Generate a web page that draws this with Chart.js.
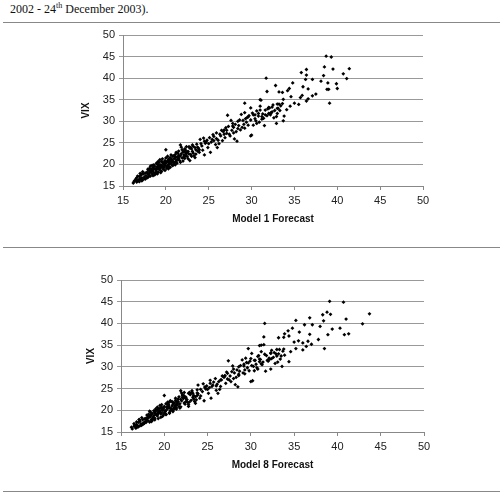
<!DOCTYPE html>
<html>
<head>
<meta charset="utf-8">
<script src="https://cdn.jsdelivr.net/npm/chart.js@4"></script>
<style>
  body { margin: 0; background: #fff; width: 503px; height: 499px; position: relative; overflow: hidden; }
  .caption { position: absolute; left: 10px; top: 1px; font-family: "Liberation Serif", "Times New Roman", serif; font-size: 12px; color: #111; }
  .caption sup { font-size: 8px; }
  .rule { position: absolute; left: 3px; width: 497px; height: 0; border-top: 1px solid #888; }
  canvas { position: absolute; left: 0; }
</style>
</head>
<body>
<div class="caption">2002 - 24<sup>th</sup> December 2003).</div>
<div class="rule" style="top:22px"></div>
<div class="rule" style="top:247px"></div>
<div class="rule" style="top:491px"></div>
<canvas id="chart_m1" width="503" height="247" style="top:0px"></canvas>
<canvas id="chart_m8" width="503" height="252" style="top:247px"></canvas>
<script>
// VIX (same for both panels), forecasts of model 1 and model 8
const vix = [
  15.7,16.1,16.6,16.9,16.4,17.2,16.7,17.5,16.9,16.4,
  17.8,17.1,16.6,17.4,18.2,17.0,17.6,18.6,18.0,17.3,
  18.9,18.3,17.8,19.3,18.5,18.1,19.6,17.6,18.8,19.2,
  18.4,20.1,19.0,18.2,19.5,20.4,18.7,19.9,19.2,18.4,
  20.7,19.6,20.2,18.9,19.4,20.9,19.8,23.4,20.3,19.1,
  20.6,19.7,21.2,20.0,19.5,20.8,21.6,20.2,19.9,21.0,
  21.9,20.5,21.4,20.1,22.3,21.0,20.6,21.7,22.6,21.3,
  20.9,24.5,22.0,24.0,21.5,22.9,22.2,21.4,23.3,22.5,
  24.1,21.8,23.0,24.1,20.9,22.3,23.6,23.0,24.2,22.0,
  21.6,23.4,24.7,23.8,22.8,25.8,24.3,26.1,22.2,24.9,
  25.2,23.9,24.8,22.8,25.2,25.8,26.5,24.6,27.3,23.9,
  24.8,26.6,27.9,27.6,26.2,28.5,31.4,27.0,30.2,28.9,
  25.9,29.3,25.4,28.3,30.3,31.6,30.2,32.0,29.8,31.0,
  26.6,33.1,26.8,31.5,30.6,32.4,31.2,35.0,30.5,29.0,
  32.6,31.3,33.2,31.9,32.2,30.8,29.5,33.0,32.5,30.1,
  31.2,30.9,31.9,30.1,31.7,32.9,32.0,29.8,28.6,27.3,
  27.9,25.6,26.9,25.6,23.1,23.9,23.0,21.1,21.3,20.0,
  19.8,19.0,17.9,17.8,16.2,19.7,20.5,20.7,20.4,22.1,
  19.4,18.7,20.4,21.8,22.7,
  45.1,44.9,42.6,42.1,42.2,42.0,41.3,41.0,40.7,40.6,
  40.0,39.9,39.7,39.7,39.3,38.9,38.9,38.7,38.3,38.0,
  37.6,37.5,37.6,37.4,37.4,37.1,36.9,36.8,36.7,36.3,
  36.0,35.9,35.7,35.5,35.2,35.1,34.9,34.7,34.2,34.2,
  34.2,33.9,33.5,33.5,32.7,
  34.1,34.0,34.0,33.6,33.8,33.3,33.0,33.1,32.5,31.8,31.5,31.1,
  31.5,31.8,31.1,30.7,30.3,29.1,28.4,29.1,29.5,31.5,31.8,32.6,
  16.3,17.3,16.0,17.9,16.2,18.3,16.8,18.0,16.9,18.9,
  17.2,19.1,18.4,19.8,17.4,19.9,17.9,20.3,17.8,20.7,
  19.0,21.1,18.1,21.3,19.2,20.5,18.6,21.5,19.4,21.9,
  19.0,20.9,19.3,22.2,20.6,19.7,22.0,20.4,19.9,22.8,
  20.3,21.5,23.1,21.9,20.5,22.5,23.4,20.8,21.7,23.6,
  22.0,22.9,21.3,22.4,23.8,21.9,24.5,22.6,23.9,22.4,
  24.0,23.4,24.8,23.3,25.4,15.9,16.5,19.6,19.6,21.0,
  26.2,25.5,26.0,27.0,25.5,28.0,27.2,28.8,26.6,27.9,
  28.6,27.6,29.0,28.0,29.3,30.6,30.0,29.5,27.0,31.3
];

const model1Forecast = [
  16.2,16.3,16.5,16.6,16.8,16.9,17.0,17.1,17.2,17.3,
  17.4,17.5,17.6,17.7,17.8,17.9,18.0,18.0,18.1,18.2,
  18.3,18.3,18.4,18.5,18.5,18.6,18.7,18.7,18.8,18.9,
  18.9,19.0,19.0,19.1,19.2,19.2,19.3,19.4,19.4,19.5,
  19.5,19.6,19.7,19.7,19.8,19.9,19.9,20.0,20.0,20.1,
  20.1,20.2,20.3,20.3,20.4,20.5,20.5,20.6,20.7,20.8,
  20.8,20.9,21.0,21.0,21.1,21.2,21.2,21.3,21.4,21.5,
  21.6,21.7,21.7,21.8,21.9,22.0,22.1,22.2,22.3,22.4,
  22.4,22.5,22.6,22.7,22.8,22.9,23.0,23.1,23.2,23.3,
  23.4,23.5,23.6,23.8,23.9,24.0,24.2,24.4,24.5,24.6,
  24.7,24.9,25.0,25.2,25.3,25.4,25.6,25.8,25.9,26.0,
  26.2,26.4,26.5,26.7,26.9,27.0,27.2,27.4,27.6,27.8,
  28.0,28.1,28.3,28.4,28.6,28.8,29.0,29.2,29.4,29.6,
  29.9,29.9,30.0,30.2,30.4,30.6,30.8,31.0,31.2,31.5,
  31.6,31.8,32.0,32.2,32.4,32.6,32.9,33.0,33.3,33.7,
  33.8,29.5,30.1,30.5,31.3,31.9,32.3,30.9,28.9,27.9,
  27.1,26.1,25.5,24.8,23.7,22.9,22.1,21.4,20.6,19.8,
  19.1,18.6,17.9,17.2,16.7,19.3,19.6,20.2,20.9,21.5,
  19.0,18.4,20.4,21.1,22.3,
  38.7,39.3,38.5,39.5,41.4,36.4,35.8,40.7,36.4,38.4,
  31.7,41.1,36.3,37.1,38.1,38.9,34.8,39.9,32.8,36.0,
  40.0,36.6,34.4,38.8,39.0,34.2,31.8,33.2,33.6,37.5,
  35.9,37.1,34.6,35.7,36.6,33.7,31.1,36.4,39.1,35.0,
  29.2,35.5,34.5,31.0,34.1,
  33.6,33.2,33.0,33.4,32.5,32.4,33.1,32.1,32.7,33.0,32.2,32.9,
  30.4,30.8,31.2,31.4,29.9,29.6,29.2,30.2,30.6,31.6,32.0,31.0,
  16.4,16.7,16.9,17.0,17.2,17.3,17.5,17.6,17.8,17.9,
  18.0,18.1,18.2,18.4,18.5,18.6,18.8,18.9,19.0,19.1,
  19.2,19.3,19.4,19.6,19.7,19.8,19.9,20.0,20.1,20.2,
  20.3,20.4,20.5,20.6,20.7,20.8,20.9,21.0,21.1,21.2,
  21.3,21.4,21.5,21.6,21.7,21.8,21.9,22.0,22.1,22.2,
  22.3,22.5,22.6,22.7,22.8,23.0,23.1,23.2,23.4,23.5,
  23.7,23.9,24.1,24.3,24.5,16.6,17.1,18.2,19.5,20.6,
  25.1,25.6,25.9,26.3,26.6,26.8,27.1,27.3,27.5,27.7,
  27.9,28.2,28.5,28.7,29.1,29.3,28.4,27.8,26.8,29.7
];

const model8Forecast = [
  16.3,16.2,16.6,16.5,16.9,17.0,16.8,17.2,17.3,17.1,
  17.5,17.6,17.4,17.8,17.9,17.7,18.1,18.2,18.0,18.3,
  18.4,18.2,18.5,18.6,18.4,18.7,18.9,18.6,18.8,19.0,
  18.7,19.2,19.1,18.9,19.3,19.4,19.2,19.5,19.3,19.6,
  19.7,19.5,19.8,19.9,19.7,20.0,20.1,20.0,19.9,20.2,
  20.3,20.1,20.4,20.2,20.6,20.5,20.4,20.8,20.7,20.9,
  20.6,21.1,21.0,20.9,21.3,21.2,21.4,21.2,21.6,21.5,
  21.7,21.9,21.6,22.0,21.8,22.2,22.0,22.4,22.3,22.6,
  22.3,22.7,22.5,22.9,22.8,23.1,23.0,23.3,23.2,23.5,
  23.6,23.4,23.8,23.9,24.1,23.9,24.4,24.5,24.6,24.8,
  24.7,25.1,25.0,25.4,25.2,25.6,25.7,26.0,25.9,26.2,
  26.4,26.3,26.7,26.9,27.1,27.3,27.4,27.5,27.9,27.8,
  28.2,28.4,28.5,28.6,28.8,29.0,29.2,29.4,29.6,29.5,
  30.0,30.1,30.2,30.4,30.6,30.8,31.0,31.2,31.3,31.7,
  31.8,32.0,32.3,32.4,32.6,32.8,32.3,33.2,33.5,33.6,
  34.4,29.7,30.0,30.3,31.1,31.6,32.1,30.7,29.1,28.0,
  27.0,26.0,25.3,24.9,23.6,22.8,22.1,21.3,20.5,19.8,
  19.0,18.5,17.9,17.1,16.7,19.4,19.6,20.3,20.8,21.4,
  18.9,18.3,20.4,21.0,22.2,
  39.1,40.7,38.8,39.2,43.7,38.3,36.8,41.0,35.2,38.4,
  31.6,42.9,36.2,37.1,38.0,40.3,34.8,39.4,34.3,35.6,
  41.3,36.8,33.9,38.9,40.8,34.4,31.5,33.8,33.2,37.8,
  35.5,36.6,35.0,36.0,37.0,31.5,31.0,36.4,38.5,35.2,
  29.7,36.0,34.6,31.2,33.9,
  33.8,33.0,33.3,33.7,32.4,32.7,32.9,32.3,33.0,33.4,32.0,33.1,
  30.5,31.0,31.4,31.2,30.1,29.8,29.3,30.4,30.8,31.9,32.2,30.9,
  16.5,16.8,16.8,17.1,17.0,17.4,17.5,17.7,17.6,18.0,
  17.9,18.2,18.1,18.3,18.5,18.8,18.6,19.0,18.9,19.2,
  19.1,19.5,19.3,19.7,19.6,19.9,19.8,20.2,20.0,20.4,
  20.2,20.5,20.6,20.7,20.6,21.0,20.9,21.2,21.0,21.3,
  21.4,21.5,21.7,21.5,21.8,21.9,22.1,21.9,22.3,22.1,
  22.5,22.4,22.8,22.6,23.0,22.9,23.2,23.4,23.3,23.7,
  23.8,23.8,24.2,24.2,24.7,16.7,17.3,18.4,19.4,20.5,
  25.3,25.5,26.1,26.5,26.5,27.0,27.3,27.2,27.7,27.6,
  28.1,28.3,28.7,28.6,29.3,29.2,28.6,28.0,26.6,29.9
];

const axisTicks = [15, 20, 25, 30, 35, 40, 45, 50];

const tickFont = { family: 'Liberation Sans, Arial, sans-serif', size: 11 };
const titleFont = { family: 'Liberation Sans, Arial, sans-serif', size: 10, weight: 'bold' };

function makeChart(id, xs, xTitle, pad, yWidth) {
  const points = xs.map((x, i) => ({ x: x, y: vix[i] }));
  return new Chart(document.getElementById(id), {
    type: 'scatter',
    data: {
      datasets: [{
        data: points,
        pointStyle: 'rectRot',
        pointRadius: 1.9,
        backgroundColor: '#000',
        borderWidth: 0
      }]
    },
    options: {
      responsive: false,
      animation: false,
      devicePixelRatio: 1,
      layout: { padding: pad },
      plugins: { legend: { display: false }, tooltip: { enabled: false } },
      scales: {
        x: {
          type: 'linear',
          min: axisTicks[0],
          max: axisTicks[axisTicks.length - 1],
          afterBuildTicks: (s) => { s.ticks = axisTicks.map(v => ({ value: v })); },
          afterFit: (s) => { s.height = 39; },
          ticks: { font: tickFont, color: '#222', padding: 4, maxRotation: 0 },
          grid: { drawOnChartArea: false, drawTicks: true, tickLength: 4, color: '#888' },
          border: { display: true, color: '#888' },
          title: { display: true, text: xTitle, font: titleFont, color: '#111', padding: 0 }
        },
        y: {
          type: 'linear',
          min: axisTicks[0],
          max: axisTicks[axisTicks.length - 1],
          afterBuildTicks: (s) => { s.ticks = axisTicks.map(v => ({ value: v })); },
          afterFit: (s) => { s.width = yWidth; },
          ticks: { font: tickFont, color: '#222', padding: 4 },
          grid: { drawTicks: true, tickLength: 4, color: '#999' },
          border: { display: true, color: '#888' },
          title: { display: true, text: 'VIX', font: titleFont, color: '#111', padding: 0 }
        }
      }
    }
  });
}

const chart_m1 = makeChart('chart_m1', model1Forecast, 'Model 1 Forecast',
  { top: 35, left: 80, right: 80, bottom: 22 }, 43);
const chart_m8 = makeChart('chart_m8', model8Forecast, 'Model 8 Forecast',
  { top: 33, left: 85, right: 79, bottom: 28 }, 36);
</script>
</body>
</html>
